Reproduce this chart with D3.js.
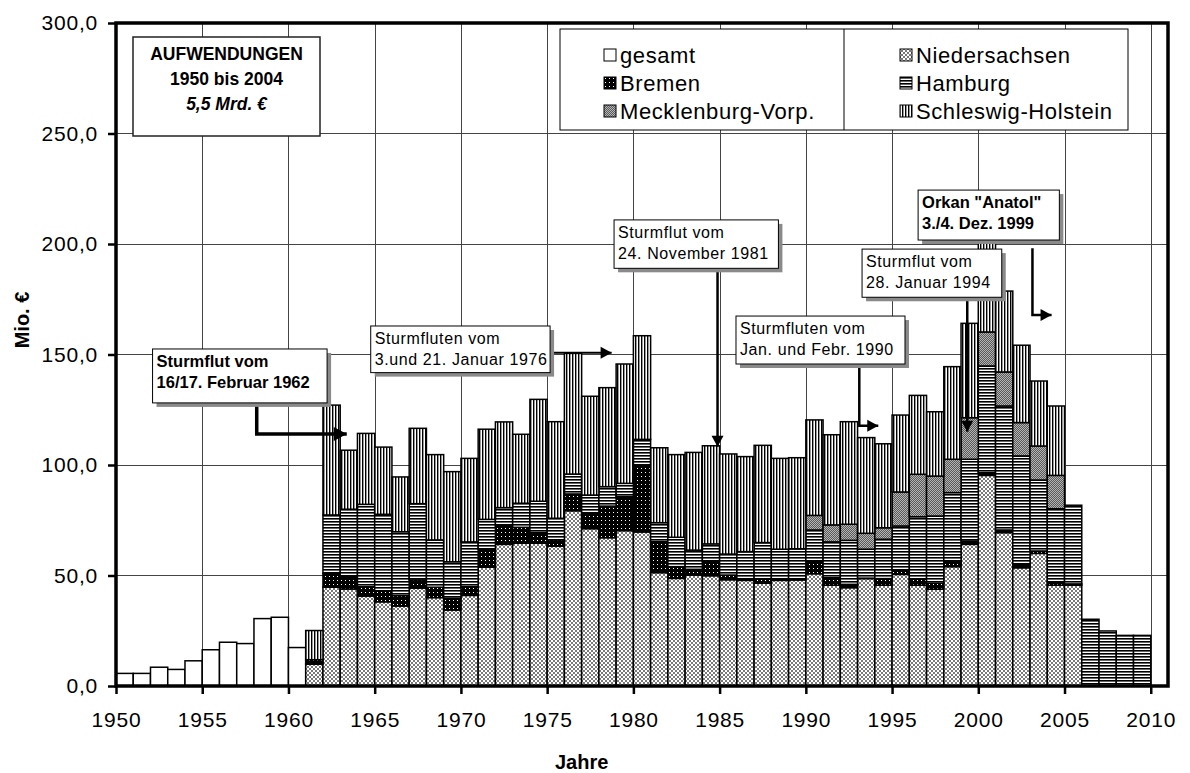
<!DOCTYPE html>
<meta charset="utf-8">

<!-- Load d3.js -->
<script src="https://d3js.org/d3.v7.min.js"></script>

<style>
    body { margin: 0; background: #fff; }
    text { font-family: "Liberation Sans", Arial, sans-serif; fill: #000; }
    .grid line { stroke: #444; stroke-width: 1; shape-rendering: crispEdges; }
    .bar { stroke: #000; stroke-width: 1.5; }
</style>

<body>
<div id="my_dataviz"></div>

<script>

    // one bar per year
    var years = d3.range(1950, 2010);

    // Aufwendungen in Mio. €, each list starts at its own year
    var gesamtStart = 1950;
    var gesamt = [5.7, 5.7, 8.5, 7.5, 11.4, 16.4, 19.8, 19.2, 30.5, 31.1, 17.4];

    var niedersachsenStart = 1961;
    var niedersachsen = [9.9, 44.7, 43.9, 40.7, 38.1, 36.2, 44.3, 40.0, 34.4, 41.0,
        53.8, 64.1, 64.6, 64.6, 63.3, 79.3, 71.2, 67.1, 70.3, 69.7,
        51.3, 48.7, 50.2, 49.9, 48.1, 47.8, 46.5, 47.8, 48.0, 50.8,
        45.6, 44.5, 48.6, 45.6, 50.5, 45.6, 43.8, 54.0, 64.1, 95.3,
        69.4, 53.5, 60.0, 45.6, 45.6];

    var bremenStart = 1961;
    var bremen = [2.0, 6.3, 5.6, 4.2, 4.9, 4.7, 3.7, 4.7, 5.3, 3.9,
        8.1, 8.4, 7.2, 4.8, 2.8, 7.6, 7.2, 14.3, 15.4, 30.3,
        14.0, 5.3, 2.6, 6.3, 2.1, 0.6, 1.8, 0.7, 0.3, 5.8,
        3.4, 1.5, 0.2, 3.0, 2.0, 2.7, 2.7, 2.3, 1.5, 1.2,
        1.2, 1.6, 1.1, 1.5, 0.6];

    var hamburgStart = 1961;
    var hamburg = [0, 26.4, 30.5, 37.3, 34.7, 28.9, 34.5, 21.4, 16.5, 20.3,
        13.5, 8.2, 10.9, 14.2, 9.8, 9.0, 8.0, 8.8, 6.0, 11.6,
        8.6, 13.3, 8.7, 8.1, 9.5, 12.4, 16.6, 13.4, 13.8, 14.0,
        16.2, 19.9, 13.1, 17.8, 19.9, 28.3, 30.4, 31.2, 37.0, 48.3,
        56.1, 49.0, 32.1, 33.1, 35.6, 30.2, 24.9, 22.9, 22.9];

    var mecklenburgStart = 1990;
    var mecklenburg = [6.6, 7.7, 7.3, 7.2, 5.2, 15.4, 19.2, 18.1, 15.1, 18.8,
        15.4, 15.4, 15.1, 15.4, 15.1];

    var schleswigStart = 1961;
    var schleswig = [13.2, 49.7, 26.7, 32.1, 30.4, 24.8, 34.1, 38.6, 40.8, 37.8,
        40.8, 38.8, 31.2, 46.1, 43.7, 54.6, 44.7, 44.8, 54.0, 46.9,
        33.9, 37.4, 44.2, 44.4, 45.3, 43.0, 44.0, 41.1, 41.2, 43.2,
        40.8, 46.4, 43.3, 38.0, 34.8, 35.7, 29.1, 41.9, 42.7, 45.8,
        36.6, 35.0, 29.4, 31.4];

    // axis ticks
    var yTicks = [0, 50, 100, 150, 200, 250, 300];
    var xTicks = [1950, 1955, 1960, 1965, 1970, 1975, 1980, 1985, 1990, 1995, 2000, 2005, 2010];

    // legend entries (stack order from bottom to top is the key list)
    var keys = ["gesamt", "niedersachsen", "bremen", "hamburg", "mecklenburg", "schleswig"];
    var legendLeft = [["gesamt", "gesamt"], ["bremen", "Bremen"], ["mecklenburg", "Mecklenburg-Vorp."]];
    var legendRight = [["niedersachsen", "Niedersachsen"], ["hamburg", "Hamburg"], ["schleswig", "Schleswig-Holstein"]];

    // storm flood notes, placed in data units (year, Mio. €)
    var notes = [
        { lines: ["Sturmflut vom", "16/17. Februar 1962"], bold: true, box: [1952.12, 152.5, 1962.24, 128.1],
          arrow: [[1958.16, 128.1], [1958.16, 114.0], [1963.38, 114.0]], w: 3.5 },
        { lines: ["Sturmfluten vom", "3.und 21. Januar 1976"], bold: false, box: [1964.77, 162.9, 1975.17, 141.8],
          arrow: [[1975.17, 150.8], [1978.74, 150.8]], w: 2 },
        { lines: ["Sturmflut vom", "24. November 1981"], bold: false, box: [1978.88, 210.9, 1988.41, 189.0],
          arrow: [[1984.88, 189.0], [1984.88, 108.3]], w: 2.5 },
        { lines: ["Sturmfluten vom", "Jan. und Febr. 1990"], bold: false, box: [1985.95, 167.4, 1995.75, 145.7],
          arrow: [[1993.10, 143.9], [1993.10, 117.8], [1994.20, 117.8]], w: 2.5 },
        { lines: ["Sturmflut vom", "28. Januar 1994"], bold: false, box: [1993.26, 197.7, 2001.36, 175.9],
          arrow: [[1999.36, 175.9], [1999.36, 115.1]], w: 2.5 },
        { lines: ["Orkan \"Anatol\"", "3./4. Dez. 1999"], bold: true, box: [1996.51, 224.4, 2004.70, 201.8],
          arrow: [[2003.14, 198.1], [2003.14, 167.9], [2004.25, 167.9]], w: 2.5 }
    ];

    // build the table the stack needs
    function byYear(start, values) {
        return function (yr) { var v = values[yr - start]; return v === undefined ? 0 : v; };
    }
    var get = {
        gesamt: byYear(gesamtStart, gesamt),
        niedersachsen: byYear(niedersachsenStart, niedersachsen),
        bremen: byYear(bremenStart, bremen),
        hamburg: byYear(hamburgStart, hamburg),
        mecklenburg: byYear(mecklenburgStart, mecklenburg),
        schleswig: byYear(schleswigStart, schleswig)
    };
    var table = years.map(function (yr) {
        var row = { year: yr };
        keys.forEach(function (k) { row[k] = get[k](yr); });
        return row;
    });

    // set the dimensions and margins of the graph
    var W = 1190, H = 773;
    var margin = { top: 23, right: 22, bottom: 87, left: 116 },
        width = W - margin.left - margin.right,
        height = H - margin.top - margin.bottom;

    var svg = d3.select("#my_dataviz").append("svg")
        .attr("width", W)
        .attr("height", H);

    var g = svg.append("g")
        .attr("transform", "translate(" + margin.left + "," + margin.top + ")");

    var x = d3.scaleLinear().domain([1950, 2011]).range([0, width]);
    var y = d3.scaleLinear().domain([0, 300]).range([height, 0]);

    // fill patterns, black and white like the print original
    var defs = svg.append("defs");
    function pattern(id, w, h, bg) {
        var p = defs.append("pattern")
            .attr("id", id)
            .attr("patternUnits", "userSpaceOnUse")
            .attr("width", w)
            .attr("height", h);
        p.append("rect").attr("width", w).attr("height", h).attr("fill", bg);
        return p;
    }
    function px(p, pts, color) {
        pts.forEach(function (q) {
            p.append("rect").attr("x", q[0]).attr("y", q[1]).attr("width", 1).attr("height", 1)
                .attr("fill", color).attr("shape-rendering", "crispEdges");
        });
    }
    pattern("pat-gesamt", 4, 4, "#fff");
    px(pattern("pat-niedersachsen", 4, 4, "#fff"),
        [[0, 0], [1, 1], [2, 2], [3, 3], [3, 0], [2, 1], [1, 2], [0, 3]], "#7a7a7a");
    px(pattern("pat-bremen", 4, 4, "#000"), [[1, 1]], "#fff");
    px(pattern("pat-mecklenburg", 2, 2, "#b4b4b4"), [[0, 0], [1, 1]], "#5a5a5a");
    pattern("pat-hamburg", 4, 3, "#fff")
        .append("rect").attr("width", 4).attr("height", 1.6).attr("fill", "#000");
    pattern("pat-schleswig", 3, 4, "#fff")
        .append("rect").attr("width", 1.4).attr("height", 4).attr("fill", "#000");

    // grid lines
    var grid = g.append("g").attr("class", "grid");
    grid.selectAll(".h")
        .data(yTicks.filter(function (t) { return t > 0 && t < 300; }))
        .enter().append("line")
        .attr("x1", 0).attr("x2", width)
        .attr("y1", function (d) { return y(d); })
        .attr("y2", function (d) { return y(d); });
    grid.selectAll(".v")
        .data(xTicks.filter(function (t) { return t > 1950; }))
        .enter().append("line")
        .attr("y1", 0).attr("y2", height)
        .attr("x1", function (d) { return Math.round(x(d)) + 0.5; })
        .attr("x2", function (d) { return Math.round(x(d)) + 0.5; });

    // stacked bars
    var stack = d3.stack().keys(keys);
    var layers = stack(table);

    g.append("g")
        .selectAll("g")
        .data(layers)
        .enter().append("g")
        .attr("fill", function (d) { return "url(#pat-" + d.key + ")"; })
        .selectAll("rect")
        .data(function (d) { return d.filter(function (s) { return s[1] - s[0] > 0; }); })
        .enter().append("rect")
        .attr("class", "bar")
        .attr("x", function (d) { return x(d.data.year); })
        .attr("width", function (d) { return x(d.data.year + 1) - x(d.data.year); })
        .attr("y", function (d) { return y(d[1]); })
        .attr("height", function (d) { return y(d[0]) - y(d[1]); });

    // plot frame
    g.append("rect")
        .attr("width", width).attr("height", height)
        .attr("fill", "none").attr("stroke", "#000").attr("stroke-width", 3.5);

    // axes
    var fmt = function (d) { return d3.format(".1f")(d).replace(".", ","); };
    var yAxis = g.append("g")
        .call(d3.axisLeft(y).tickValues(yTicks).tickFormat(fmt).tickSize(8).tickPadding(10));
    var xAxis = g.append("g")
        .attr("transform", "translate(0," + height + ")")
        .call(d3.axisBottom(x).tickValues(xTicks).tickFormat(d3.format("d")).tickSize(8).tickPadding(18));
    [yAxis, xAxis].forEach(function (a) {
        a.select(".domain").remove();
        a.selectAll(".tick line").attr("stroke", "#000").attr("stroke-width", 2.5);
        a.selectAll("text").attr("font-size", 21).attr("letter-spacing", 0.8)
            .style("font-family", "'Liberation Sans', Arial, sans-serif");
    });

    // axis titles
    svg.append("text")
        .attr("x", margin.left + x(1977)).attr("y", 769)
        .attr("text-anchor", "middle")
        .attr("font-size", 20).attr("font-weight", "bold")
        .text("Jahre");
    svg.append("text")
        .attr("transform", "translate(29,320) rotate(-90)")
        .attr("text-anchor", "middle")
        .attr("font-size", 20).attr("font-weight", "bold")
        .text("Mio. €");

    // notes with shadowed boxes and arrows
    var noteG = g.append("g");
    notes.forEach(function (n) {
        var bx = x(n.box[0]), by = y(n.box[1]),
            bw = x(n.box[2]) - bx, bh = y(n.box[3]) - by;
        var path = d3.line()(n.arrow.map(function (p) { return [x(p[0]), y(p[1])]; }));
        noteG.append("path").attr("d", path)
            .attr("fill", "none").attr("stroke", "#000").attr("stroke-width", n.w);
        // arrow head at the last point
        var a = n.arrow[n.arrow.length - 2], b = n.arrow[n.arrow.length - 1];
        var x0 = x(a[0]), y0 = y(a[1]), x1 = x(b[0]), y1 = y(b[1]);
        var ang = Math.atan2(y1 - y0, x1 - x0);
        var L = n.w > 3 ? 13 : 11, Hh = n.w > 3 ? 7 : 6;
        var head = [[x1, y1],
            [x1 - L * Math.cos(ang) - Hh * Math.sin(ang), y1 - L * Math.sin(ang) + Hh * Math.cos(ang)],
            [x1 - L * Math.cos(ang) + Hh * Math.sin(ang), y1 - L * Math.sin(ang) - Hh * Math.cos(ang)]];
        noteG.append("path").attr("d", d3.line()(head) + "Z").attr("fill", "#000");

        noteG.append("rect").attr("x", bx + 4).attr("y", by + 4).attr("width", bw).attr("height", bh)
            .attr("fill", "#8a8a8a");
        noteG.append("rect").attr("x", bx).attr("y", by).attr("width", bw).attr("height", bh)
            .attr("fill", "#fff").attr("stroke", "#000").attr("stroke-width", 1);
        n.lines.forEach(function (t, i) {
            noteG.append("text")
                .attr("x", bx + 4)
                .attr("y", by + 18 + i * 21)
                .attr("font-size", n.bold ? 16.5 : 16)
                .attr("font-weight", n.bold ? "bold" : "normal")
                .attr("letter-spacing", n.bold ? 0 : 0.6)
                .text(t);
        });
    });

    // title box
    var tb = svg.append("g").attr("transform", "translate(133,37)");
    tb.append("rect").attr("width", 187).attr("height", 99)
        .attr("fill", "#fff").attr("stroke", "#222").attr("stroke-width", 1.5);
    [["AUFWENDUNGEN", "normal"], ["1950 bis 2004", "normal"], ["5,5 Mrd. €", "italic"]].forEach(function (t, i) {
        tb.append("text")
            .attr("x", 93.5).attr("y", 23 + i * 25)
            .attr("text-anchor", "middle")
            .attr("font-size", 17.5).attr("font-weight", "bold").attr("font-style", t[1])
            .text(t[0]);
    });

    // legend
    var lg = svg.append("g").attr("transform", "translate(560,29)");
    lg.append("rect").attr("width", 568).attr("height", 101)
        .attr("fill", "#fff").attr("stroke", "#000").attr("stroke-width", 1);
    lg.append("line").attr("x1", 284).attr("x2", 284).attr("y1", 0).attr("y2", 101)
        .attr("stroke", "#000").attr("stroke-width", 1);
    function legendColumn(items, left) {
        items.forEach(function (it, i) {
            lg.append("rect")
                .attr("x", left).attr("y", 20 + i * 28)
                .attr("width", 12).attr("height", 12)
                .attr("fill", "url(#pat-" + it[0] + ")")
                .attr("stroke", "#000").attr("stroke-width", 1);
            lg.append("text")
                .attr("x", left + 16).attr("y", 34 + i * 28)
                .attr("font-size", 22).attr("letter-spacing", 0.6)
                .text(it[1]);
        });
    }
    legendColumn(legendLeft, 44);
    legendColumn(legendRight, 340);

</script>
</body>

</html>
